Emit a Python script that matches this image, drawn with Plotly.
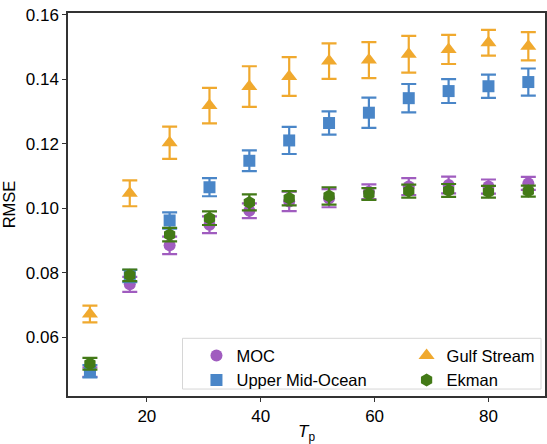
import plotly.graph_objects as go

tp = [10, 17, 24, 31, 38, 45, 52, 59, 66, 73, 80, 87]

moc = [0.0492, 0.0764, 0.0885, 0.0949, 0.0992, 0.1021, 0.1031, 0.1051, 0.1067, 0.1072, 0.1067, 0.1077]
moc_err = [0.0015, 0.0023, 0.0027, 0.0026, 0.0023, 0.0030, 0.0028, 0.0023, 0.0026, 0.0026, 0.0022, 0.0020]

umo = [0.0495, 0.0790, 0.0962, 0.1065, 0.1147, 0.1210, 0.1264, 0.1296, 0.1341, 0.1363, 0.1378, 0.1391]
umo_err = [0.0019, 0.0019, 0.0025, 0.0028, 0.0032, 0.0042, 0.0036, 0.0047, 0.0044, 0.0037, 0.0036, 0.0042]

gs = [0.0672, 0.1046, 0.1203, 0.1318, 0.1377, 0.1408, 0.1456, 0.1459, 0.1477, 0.1492, 0.1513, 0.1502]
gs_err = [0.0026, 0.0040, 0.0050, 0.0055, 0.0063, 0.0060, 0.0055, 0.0056, 0.0057, 0.0045, 0.0040, 0.0044]

ekman = [0.0518, 0.0792, 0.0918, 0.0969, 0.1018, 0.1031, 0.1038, 0.1044, 0.1053, 0.1055, 0.1051, 0.1053]
ekman_err = [0.0018, 0.0018, 0.0021, 0.0021, 0.0025, 0.0022, 0.0027, 0.0018, 0.0020, 0.0020, 0.0018, 0.0017]

series = [
    ("MOC", moc, moc_err, "#a05cbf", "circle", 12, "legend"),
    ("Upper Mid-Ocean", umo, umo_err, "#4a86c8", "square", 12, "legend"),
    ("Gulf Stream", gs, gs_err, "#f0a92e", "triangle-up", 14, "legend2"),
    ("Ekman", ekman, ekman_err, "#437a17", "hexagon", 13, "legend2"),
]

FONT = "Liberation Sans, Arial, sans-serif"

fig = go.Figure()
for name, vals, errs, col, sym, size, leg in series:
    fig.add_trace(go.Scatter(
        x=tp, y=vals, name=name, mode="markers",
        marker=dict(color=col, symbol=sym, size=size, line=dict(width=0)),
        error_y=dict(type="data", array=errs, visible=True, color=col,
                     thickness=2.2, width=7.5),
        legend=leg,
    ))

L, R, T, B = 68, 0, 13, 46
W, H = 547, 444
pw, ph = W - L - R, H - T - B

def px_x(p):
    return (p - L) / pw

def px_y(p):
    return (H - B - p) / ph

# legend box
bx0, bx1, by0, by1 = px_x(183), px_x(543), px_y(391), px_y(340)
fig.add_shape(type="rect", xref="paper", yref="paper",
              x0=bx0, x1=bx1, y0=by0, y1=by1,
              line=dict(color="#d6d6d6", width=1), fillcolor="white", layer="below")

leg_common = dict(bgcolor="rgba(0,0,0,0)", borderwidth=0,
                  font=dict(family=FONT, size=16.5, color="#000"),
                  xanchor="left", yanchor="top", orientation="v",
                  tracegroupgap=0, itemsizing="trace")

fig.update_layout(
    width=W, height=H,
    margin=dict(l=L, r=R, t=T, b=B, pad=0),
    paper_bgcolor="white", plot_bgcolor="white",
    font=dict(family=FONT, size=17, color="#000"),
    showlegend=True,
    legend=dict(x=px_x(197), y=px_y(340), **leg_common),
    legend2=dict(x=px_x(408), y=px_y(340), **leg_common),
    xaxis=dict(range=[6.15, 89.93], tickvals=[20, 40, 60, 80],
               showgrid=False, zeroline=False,
               showline=True, linecolor="#333", linewidth=1.5, mirror=True,
               ticks="outside", ticklen=4, tickcolor="#333", tickwidth=1,
               tickfont=dict(size=17),
               title=dict(text="<i>T</i><sub>p</sub>", font=dict(size=17), standoff=6)),
    yaxis=dict(range=[0.0418, 0.1605], tickvals=[0.06, 0.08, 0.10, 0.12, 0.14, 0.16],
               ticktext=["0.06", "0.08", "0.10", "0.12", "0.14", "0.16"],
               showgrid=False, zeroline=False,
               showline=True, linecolor="#333", linewidth=1.5, mirror=True,
               ticks="outside", ticklen=4, tickcolor="#333", tickwidth=1,
               tickfont=dict(size=17),
               title=dict(text="RMSE", font=dict(size=16.5), standoff=8)),
)

fig.write_html("out.html")
